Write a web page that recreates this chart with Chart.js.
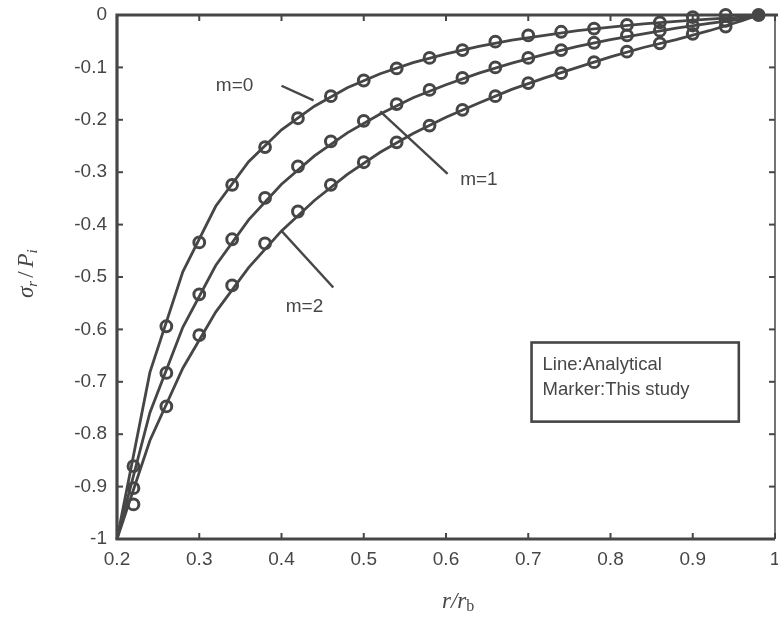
<!DOCTYPE html>
<html>
<head>
<meta charset="utf-8">
<script src="https://cdn.jsdelivr.net/npm/chart.js@4.4.1/dist/chart.umd.min.js"></script>
<style>
  html, body { margin: 0; padding: 0; background: #fff; }
  #wrap { width: 778px; height: 621px; }
</style>
</head>
<body>
<div id="wrap"><canvas id="canvas" width="778" height="621"></canvas></div>
<script>
// analytical curves (lines)
var lineR = [0.20, 0.24, 0.28, 0.32, 0.36, 0.40, 0.44, 0.48, 0.52, 0.56, 0.60, 0.64, 0.68, 0.72, 0.76, 0.80, 0.84, 0.88, 0.92, 0.96, 0.98];
var lineM0 = [-1, -0.682, -0.490, -0.365, -0.280, -0.219, -0.174, -0.139, -0.112, -0.091, -0.074, -0.060, -0.048, -0.039, -0.030, -0.023, -0.017, -0.012, -0.008, -0.004, 0];
var lineM1 = [-1, -0.759, -0.596, -0.478, -0.391, -0.323, -0.269, -0.225, -0.189, -0.158, -0.133, -0.111, -0.092, -0.075, -0.060, -0.047, -0.036, -0.025, -0.016, -0.008, 0];
var lineM2 = [-1, -0.812, -0.674, -0.567, -0.482, -0.412, -0.354, -0.304, -0.262, -0.226, -0.195, -0.168, -0.142, -0.120, -0.100, -0.080, -0.062, -0.047, -0.030, -0.011, 0];

// this study (markers)
var markR = [0.22, 0.26, 0.30, 0.34, 0.38, 0.42, 0.46, 0.50, 0.54, 0.58, 0.62, 0.66, 0.70, 0.74, 0.78, 0.82, 0.86, 0.90, 0.94];
var markM0 = [-0.861, -0.594, -0.434, -0.324, -0.252, -0.197, -0.155, -0.125, -0.102, -0.082, -0.067, -0.051, -0.039, -0.032, -0.026, -0.019, -0.014, -0.004, 0.000];
var markM1 = [-0.903, -0.683, -0.533, -0.428, -0.349, -0.289, -0.241, -0.202, -0.170, -0.143, -0.120, -0.100, -0.082, -0.067, -0.053, -0.039, -0.030, -0.020, -0.011];
var markM2 = [-0.934, -0.747, -0.611, -0.516, -0.436, -0.375, -0.324, -0.281, -0.243, -0.211, -0.181, -0.155, -0.130, -0.111, -0.090, -0.070, -0.054, -0.036, -0.022];

// outer boundary point
var endR = [0.98];
var endS = [0];

var xTickLabels = ['0.2', '0.3', '0.4', '0.5', '0.6', '0.7', '0.8', '0.9', '1'];
var yTickLabels = ['-1', '-0.9', '-0.8', '-0.7', '-0.6', '-0.5', '-0.4', '-0.3', '-0.2', '-0.1', '0'];
var curveNames = ['m=0', 'm=1', 'm=2'];

var ink = '#464646';
var font = "'Liberation Sans', Arial, sans-serif";
var serif = '"Liberation Serif", "Times New Roman", serif';

function pts(xs, ys) {
    return xs.map(function(x, i) { return {x: x, y: ys[i]}; });
}
function lineSet(ys) {
    return {type: 'line', data: pts(lineR, ys), borderColor: ink, borderWidth: 2.8,
        pointRadius: 0, tension: 0, fill: false, clip: false};
}
function markSet(ys) {
    return {type: 'scatter', data: pts(markR, ys), borderColor: ink, borderWidth: 3,
        backgroundColor: 'rgba(0,0,0,0)', pointStyle: 'circle', pointRadius: 5.4, clip: false};
}

// frame, inward ticks, labels, box
var decor = {
    id: 'decor',
    afterDraw: function(chart) {
        var c = chart.ctx, a = chart.chartArea;
        var xs = chart.scales.x, ys = chart.scales.y;
        c.save();
        c.strokeStyle = ink;
        c.fillStyle = ink;
        // ticks
        c.lineWidth = 2;
        xs.ticks.forEach(function(t) {
            var px = xs.getPixelForValue(t.value);
            c.beginPath(); c.moveTo(px, a.bottom); c.lineTo(px, a.bottom - 6); c.stroke();
            c.beginPath(); c.moveTo(px, a.top); c.lineTo(px, a.top + 6); c.stroke();
        });
        ys.ticks.forEach(function(t) {
            var py = ys.getPixelForValue(t.value);
            c.beginPath(); c.moveTo(a.left, py); c.lineTo(a.left + 6, py); c.stroke();
            c.beginPath(); c.moveTo(a.right, py); c.lineTo(a.right - 6, py); c.stroke();
        });
        // frame
        c.lineWidth = 1.5;
        c.beginPath(); c.moveTo(a.right, a.top); c.lineTo(a.right, a.bottom); c.stroke();
        c.lineWidth = 3.2;
        c.beginPath();
        c.moveTo(chart.width, a.top); c.lineTo(a.left, a.top); c.lineTo(a.left, a.bottom); c.lineTo(a.right, a.bottom);
        c.stroke();

        // curve annotations with leader lines
        var notes = [
            {t: curveNames[0], x: 0.343, y: -0.135, l: [0.400, -0.135, 0.439, -0.163]},
            {t: curveNames[1], x: 0.640, y: -0.314, l: [0.520, -0.184, 0.602, -0.303]},
            {t: curveNames[2], x: 0.428, y: -0.556, l: [0.400, -0.412, 0.463, -0.520]}
        ];
        c.font = '19px ' + font;
        c.textAlign = 'center';
        c.textBaseline = 'middle';
        c.lineWidth = 2.4;
        notes.forEach(function(n) {
            c.fillText(n.t, xs.getPixelForValue(n.x), ys.getPixelForValue(n.y));
            c.beginPath();
            c.moveTo(xs.getPixelForValue(n.l[0]), ys.getPixelForValue(n.l[1]));
            c.lineTo(xs.getPixelForValue(n.l[2]), ys.getPixelForValue(n.l[3]));
            c.stroke();
        });

        // legend box
        var bx1 = xs.getPixelForValue(0.704), bx2 = xs.getPixelForValue(0.956);
        var by1 = ys.getPixelForValue(-0.625), by2 = ys.getPixelForValue(-0.776);
        c.lineWidth = 2.6;
        c.strokeRect(bx1, by1, bx2 - bx1, by2 - by1);
        c.textAlign = 'left';
        c.font = '18.5px ' + font;
        c.fillText('Line:Analytical', bx1 + 11, ys.getPixelForValue(-0.668));
        c.fillText('Marker:This study', bx1 + 11, ys.getPixelForValue(-0.715));

        // y axis title: sigma_r / P_i
        c.save();
        c.translate(26, 266);
        c.rotate(-Math.PI / 2);
        c.textBaseline = 'alphabetic';
        c.textAlign = 'left';
        var x0 = -32;
        c.font = 'italic 23px ' + serif;
        c.fillText('\u03c3', x0, 7); x0 += c.measureText('\u03c3').width;
        c.font = 'italic 15px ' + serif;
        c.fillText('r', x0, 11); x0 += c.measureText('r').width + 3;
        c.font = '23px ' + serif;
        c.fillText('/', x0, 7); x0 += c.measureText('/').width + 4;
        c.font = 'italic 23px ' + serif;
        c.fillText('P', x0, 7); x0 += c.measureText('P').width;
        c.font = 'italic 15px ' + serif;
        c.fillText('i', x0, 11);
        c.restore();

        // x axis title: r / r_b
        c.textBaseline = 'alphabetic';
        c.textAlign = 'left';
        var x1 = 442;
        c.font = 'italic 23px ' + serif;
        c.fillText('r/r', x1, 608); x1 += c.measureText('r/r').width;
        c.font = '16px ' + serif;
        c.fillText('b', x1, 611);
        c.restore();
    }
};

var config = {
    data: {
        datasets: [
            lineSet(lineM0), lineSet(lineM1), lineSet(lineM2),
            markSet(markM0), markSet(markM1), markSet(markM2),
            {type: 'scatter', data: pts(endR, endS), borderColor: ink, backgroundColor: ink,
                pointRadius: 7, borderWidth: 0, clip: false}
        ]
    },
    options: {
        responsive: false,
        animation: false,
        events: [],
        layout: {autoPadding: false, padding: {left: 0, right: 3, top: 15, bottom: 0}},
        plugins: {legend: {display: false}, tooltip: {enabled: false}},
        scales: {
            x: {
                type: 'linear', min: 0.2, max: 1,
                grid: {display: false, drawTicks: false},
                border: {display: false},
                ticks: {
                    stepSize: 0.1, padding: 9, color: ink, maxRotation: 0, autoSkip: false,
                    font: {family: font, size: 19},
                    callback: function(v, i) { return xTickLabels[i]; }
                },
                // let the last label run off the canvas like the original
                afterFit: function(s) { s.height = 82; s.paddingLeft = 0; s.paddingRight = 0; }
            },
            y: {
                type: 'linear', min: -1, max: 0,
                grid: {display: false, drawTicks: false},
                border: {display: false},
                ticks: {
                    stepSize: 0.1, padding: 10, color: ink, autoSkip: false,
                    font: {family: font, size: 19},
                    callback: function(v, i) { return yTickLabels[i]; }
                },
                afterFit: function(s) { s.width = 117; s.paddingTop = 0; s.paddingBottom = 0; }
            }
        }
    },
    plugins: [decor]
};

window.onload = function() {
    window.myChart = new Chart(document.getElementById('canvas'), config);
};
</script>
</body>
</html>
